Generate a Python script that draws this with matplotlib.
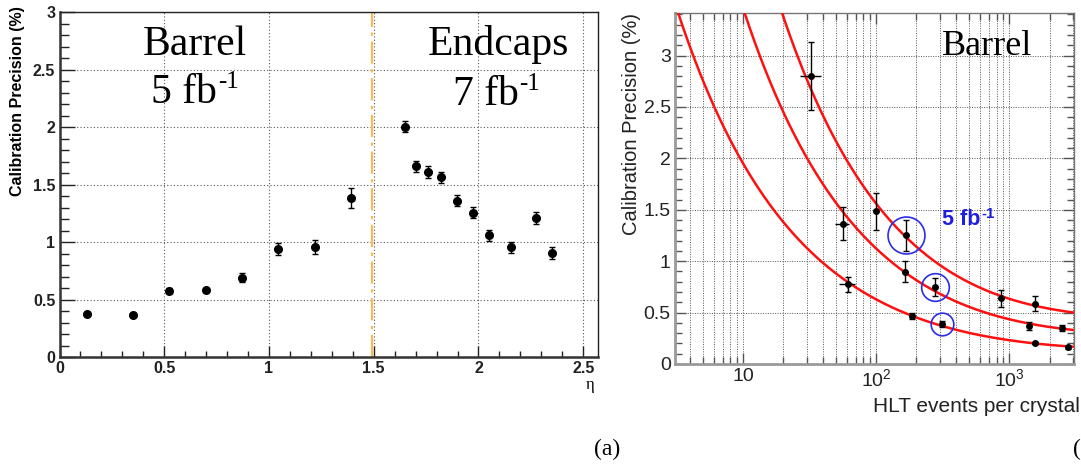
import numpy as np
import matplotlib
matplotlib.use("Agg")
import matplotlib.pyplot as plt
from matplotlib.ticker import MultipleLocator, FuncFormatter, FixedLocator, NullFormatter, LogLocator

plt.rcParams['font.family'] = ['Liberation Sans', 'DejaVu Sans']

# ---- left panel: calibration precision versus pseudorapidity ----
eta = [0.133, 0.349, 0.524, 0.699, 0.870, 1.044, 1.220, 1.390,
       1.651, 1.702, 1.761, 1.823, 1.899, 1.972, 2.052, 2.154, 2.274, 2.352]
precision = [0.378, 0.369, 0.579, 0.585, 0.690, 0.940, 0.960, 1.385,
             2.005, 1.659, 1.610, 1.563, 1.362, 1.258, 1.059, 0.955, 1.211, 0.905]
precision_err = [0.015, 0.015, 0.02, 0.02, 0.04, 0.055, 0.06, 0.085,
                 0.05, 0.05, 0.05, 0.05, 0.05, 0.05, 0.05, 0.05, 0.05, 0.05]
barrel_edge = 1.49

# ---- right panel: precision versus HLT events per crystal ----
hlt_events = [32.2, 56.2, 99.6, 166, 61.4, 164, 274, 185, 310, 863, 1553, 1400, 2500, 1553, 2762]
hlt_precision = [2.80, 1.365, 1.488, 1.252, 0.775, 0.898, 0.749, 0.467, 0.389,
                 0.639, 0.587, 0.373, 0.350, 0.204, 0.162]
hlt_err = [0.33, 0.16, 0.18, 0.15, 0.075, 0.105, 0.09, 0.03, 0.03,
           0.08, 0.07, 0.04, 0.03, 0.012, 0.012]
hlt_xerr_lo = [5.6, 7.5, 0, 6, 8.9, 6, 6, 8, 15, 0, 0, 0, 0, 0, 0]
hlt_xerr_hi = [6.5, 5.9, 0, 9, 7.8, 8, 8, 8, 15, 0, 0, 0, 0, 0, 0]
# fitted resolution curves: sqrt(stat^2 / N + const^2)
fit_stat = [6.15, 10.9, 15.0]
fit_const = [0.125, 0.265, 0.42]
# highlighted points at 5 fb^-1 (index, ring diameter in points)
ring_index = [3, 6, 8]
ring_size = [26.6, 19.9, 16.3]

W, H = 1081, 467
fig = plt.figure(figsize=(W / 100, H / 100), dpi=100)
serif = ['Liberation Serif', 'DejaVu Serif']


def lumi_text(ax, x, y, base, sup, size, transform=None, sup_scale=0.6, rise=1.5, **kw):
    """Text with a plain-hyphen superscript, e.g. 'fb' followed by '-1'."""
    if transform is None:
        transform = ax.transData
    t = ax.text(x, y, base, fontsize=size, ha='left', va='baseline', transform=transform, **kw)
    ax.annotate(sup, xy=(1.0, 1.0), xycoords=t, xytext=(0.6, rise), textcoords='offset points',
                fontsize=size * sup_scale, ha='left', va='top', **kw)
    return t


# ================= left panel =================
axl = fig.add_axes([59.5 / W, 1 - 357.3 / H, (598.3 - 59.5) / W, (357.3 - 12) / H])
axl.set_xlim(0, 2.572)
axl.set_ylim(0, 3)
axl.xaxis.set_major_locator(MultipleLocator(0.5))
axl.xaxis.set_minor_locator(MultipleLocator(0.1))
axl.yaxis.set_major_locator(MultipleLocator(0.5))
axl.yaxis.set_minor_locator(MultipleLocator(0.1))
fmt = FuncFormatter(lambda v, p: f"{v:g}")
axl.xaxis.set_major_formatter(fmt)
axl.yaxis.set_major_formatter(fmt)
axl.grid(which='major', linestyle=(0, (1, 2)), color='#555555', linewidth=0.8)
axl.tick_params(which='both', direction='in', top=False, right=False, colors='#222222',
                labelsize=11.5, pad=3)
axl.tick_params(axis='y', which='major', length=10.8, width=1.0)
axl.tick_params(axis='y', which='minor', length=6.5, width=1.0)
axl.tick_params(axis='x', which='major', length=7.9, width=1.0)
axl.tick_params(axis='x', which='minor', length=4.3, width=1.0)
for lab in axl.get_xticklabels() + axl.get_yticklabels():
    lab.set_fontweight('bold')
for side in ('left', 'bottom'):
    axl.spines[side].set_linewidth(1.8)
    axl.spines[side].set_color('#333333')
for side in ('top', 'right'):
    axl.spines[side].set_linewidth(1.0)
    axl.spines[side].set_color('#222222')

axl.axvline(barrel_edge, color='#f6bb55', linewidth=1.6, linestyle=(0, (10, 2.5, 1.5, 2.5)), zorder=2)
axl.errorbar(eta, precision, yerr=precision_err, fmt='o', color='black', markersize=5.5,
             elinewidth=1.0, capsize=2, capthick=1.0, zorder=4)

axl.text(0.647, 2.63, 'Barrel', family=serif, fontsize=30, ha='center', va='baseline')
lumi_text(axl, 0.437, 2.212, '5 fb', '-1', 30, family=serif)
axl.text(2.093, 2.625, 'Endcaps', family=serif, fontsize=30, ha='center', va='baseline')
lumi_text(axl, 1.878, 2.195, '7 fb', '-1', 30, family=serif)

fig.text(17.7 / W, 1 - 6 / H, 'Calibration Precision (%)', rotation=90, ha='center', va='top',
         fontsize=11.5, fontweight='bold')
fig.text(590 / W, 1 - 385 / H, 'η', family=serif, fontsize=12, ha='center', va='center')
fig.text(607 / W, 1 - 449 / H, '(a)', family=serif, fontsize=17, ha='center', va='center')

# ================= right panel =================
axr = fig.add_axes([675 / W, 1 - 364 / H, (1074 - 675) / W, (364 - 12.7) / H])
axr.set_xscale('log')
axr.set_xlim(3.074, 3055)
axr.set_ylim(0, 3.417)
axr.xaxis.set_major_locator(FixedLocator([10, 100, 1000]))
axr.xaxis.set_major_formatter(FuncFormatter(
    lambda v, p: {10: '10', 100: r'10$\mathregular{^{2}}$', 1000: r'10$\mathregular{^{3}}$'}.get(int(round(v)), '')))
axr.xaxis.set_minor_locator(LogLocator(base=10, subs=np.arange(2, 10)))
axr.xaxis.set_minor_formatter(NullFormatter())
axr.yaxis.set_major_locator(MultipleLocator(0.5))
axr.yaxis.set_minor_locator(MultipleLocator(0.1))
axr.yaxis.set_major_formatter(fmt)
axr.grid(which='both', axis='x', linestyle=(0, (1, 1.5)), color='#555555', linewidth=0.7)
axr.grid(which='major', axis='y', linestyle=(0, (1, 1.5)), color='#555555', linewidth=0.7)
axr.tick_params(which='both', direction='in', top=True, right=True, colors='#555555',
                labelcolor='#222222', labelsize=14, pad=3)
axr.tick_params(which='major', length=8, width=1.0)
axr.tick_params(which='minor', length=4.8, width=1.0)
for side in ('left', 'bottom'):
    axr.spines[side].set_linewidth(2.0)
    axr.spines[side].set_color('#9a9a9a')
for side in ('top', 'right'):
    axr.spines[side].set_linewidth(1.0)
    axr.spines[side].set_color('#777777')

n_grid = np.logspace(np.log10(3.074), np.log10(3055), 400)
for s, c in zip(fit_stat, fit_const):
    axr.plot(n_grid, np.sqrt(s ** 2 / n_grid + c ** 2), color='#ff1010', linewidth=1.8, zorder=3)

axr.errorbar(hlt_events, hlt_precision, xerr=[hlt_xerr_lo, hlt_xerr_hi], fmt='none',
             ecolor='black', elinewidth=1.0, capsize=0, zorder=4)
axr.errorbar(hlt_events, hlt_precision, yerr=hlt_err, fmt='o', color='black', markersize=4,
             elinewidth=1.0, capsize=2, capthick=1.0, zorder=5)
for i, d in zip(ring_index, ring_size):
    axr.plot([hlt_events[i]], [hlt_precision[i]], 'o', markerfacecolor='none',
             markeredgecolor='#2c2ce8', markeredgewidth=1.2, markersize=d, zorder=6)

lumi_text(axr, 0.669, 0.3957, '5 fb', '-1', 15.5, transform=axr.transAxes, sup_scale=0.7,
          rise=1.5, color='#1f1fe0', fontweight='bold')
axr.text(0.783, 0.8796, 'Barrel', transform=axr.transAxes, family=serif, fontsize=26,
         ha='center', va='baseline')

fig.text(632 / W, 1 - 13 / H, 'Calibration Precision (%)', rotation=90, ha='center', va='top',
         fontsize=14.5, color='#222222')
fig.text(1080 / W, 1 - 407 / H, 'HLT events per crystal', ha='right', va='center',
         fontsize=15, color='#222222')
fig.text(1073 / W, 1 - 449 / H, '(', family=serif, fontsize=17, ha='left', va='center')

fig.savefig('out.png', dpi=100)
